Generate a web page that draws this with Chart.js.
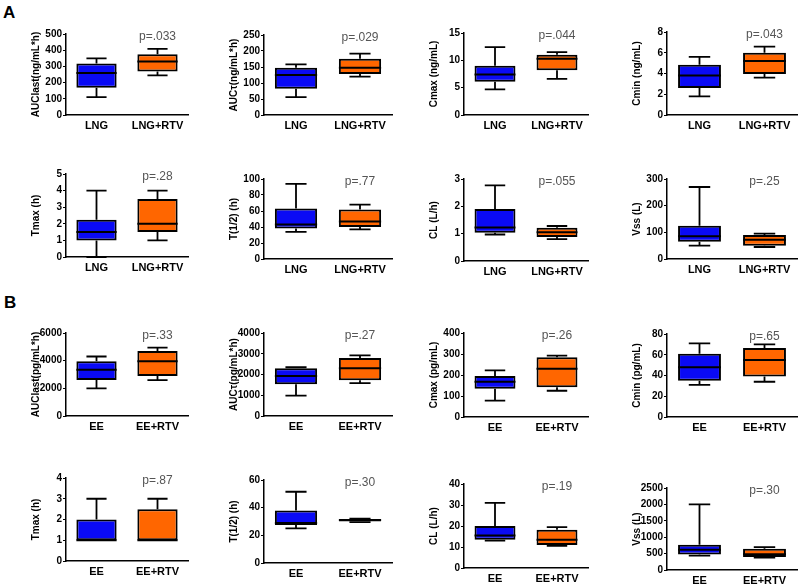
<!DOCTYPE html>
<html><head><meta charset="utf-8">
<script src="https://cdn.jsdelivr.net/npm/chart.js@4"></script>
<style>
body{margin:0;background:#fff;width:800px;height:587px;position:relative;overflow:hidden;font-family:"Liberation Sans",Arial,sans-serif}
.lab{position:absolute;font-weight:bold;font-size:17px;color:#000}
canvas{position:absolute}
</style></head><body>
<div class="lab" style="left:3px;top:3px">A</div>
<div class="lab" style="left:4px;top:293px">B</div>
<script>
// ---- data ----
const groupsA = ['LNG', 'LNG+RTV'];
const groupsB = ['EE', 'EE+RTV'];
const yTitles = ['AUClast(ng/mL*h)', 'AUCτ(ng/mL*h)', 'Cmax (ng/mL)', 'Cmin (ng/mL)',
                 'Tmax (h)', 'T(1/2) (h)', 'CL (L/h)', 'Vss (L)',
                 'AUClast(pg/mL*h)', 'AUCτ(pg/mL*h)', 'Cmax (pg/mL)', 'Cmin (pg/mL)',
                 'Tmax (h)', 'T(1/2) (h)', 'CL (L/h)', 'Vss (L)'];
const yMaxs  = [500, 250, 15, 8, 5, 100, 3, 300, 6000, 4000, 400, 80, 4, 60, 40, 2500];
const ySteps = [100, 50, 5, 2, 1, 20, 1, 100, 2000, 1000, 100, 20, 1, 20, 10, 500];
const pValues = ['p=.033', 'p=.029', 'p=.044', 'p=.043', 'p=.28', 'p=.77', 'p=.055', 'p=.25',
                 'p=.33', 'p=.27', 'p=.26', 'p=.65', 'p=.87', 'p=.30', 'p=.19', 'p=.30'];
// group 1 (blue): LNG / EE
const min1 = [110, 56, 4.7, 1.8, 0, 34, 0.97, 50, 2000, 980, 78, 31, 1, 25, 13, 440];
const q1_1 = [168, 82, 6.1, 2.6, 1, 38, 1.03, 65, 2600, 1530, 135, 35, 1, 27.5, 13.5, 470];
const med1 = [260, 125, 7.4, 3.8, 1.5, 43, 1.23, 85, 3350, 1930, 168, 48, 1, 29, 15.5, 620];
const q3_1 = [318, 148, 9.0, 4.85, 2.25, 63, 1.9, 125, 3950, 2300, 195, 61, 2, 38, 20, 770];
const max1 = [350, 158, 12.4, 5.6, 4, 94, 2.77, 270, 4300, 2350, 222, 71, 3, 51.5, 31, 2000];
// group 2 (orange): +RTV
const min2 = [245, 120, 6.6, 3.6, 1, 37, 0.8, 45, 2600, 1580, 125, 34, 1, 29.5, 10.5, 380];
const q1_2 = [268, 128, 8.2, 3.95, 1.5, 40, 0.88, 50, 2900, 1720, 142, 39, 1, 30, 11, 400];
const med2 = [330, 148, 10.3, 5.2, 2, 47, 1.05, 72, 3950, 2300, 230, 55, 1, 31, 13.5, 480];
const q3_2 = [375, 176, 11.0, 6.0, 3.5, 62, 1.22, 90, 4700, 2800, 285, 66.5, 2.5, 31.5, 18.2, 650];
const max2 = [408, 192, 11.5, 6.6, 4, 68, 1.28, 95, 4950, 2920, 292, 70, 3, 32, 19.5, 700];

// ---- layout (pixels) ----
const colAxisX = [66, 264, 464, 667];
const colPlotW = [122, 128, 124, 130];
const plotTops    = [34, 35, 33, 32, 174, 179, 179, 179, 333, 333, 333, 334, 478, 480, 484, 488];
const plotBottoms = [115, 115, 115, 115, 257, 259, 261, 259, 416, 416, 417, 417, 561, 563, 568, 570];
const PAD_T = 10, PAD_R = 8, Y_W = 36, X_H = 22;
const BLUE = '#0A0AF5', ORANGE = '#FF6600';
const FONT = '"Liberation Sans", Arial, sans-serif';

function makeChart(i) {
  const col = i % 4;
  const ax = colAxisX[col], pw = colPlotW[col];
  const top = plotTops[i], ph = plotBottoms[i] - plotTops[i];
  const cv = document.createElement('canvas');
  cv.width = Y_W + pw + PAD_R;
  cv.height = PAD_T + ph + X_H;
  cv.style.left = (ax - Y_W) + 'px';
  cv.style.top = (top - PAD_T) + 'px';
  document.body.appendChild(cv);
  const stats = [
    {min: min1[i], q1: q1_1[i], med: med1[i], q3: q3_1[i], max: max1[i]},
    {min: min2[i], q1: q1_2[i], med: med2[i], q3: q3_2[i], max: max2[i]}
  ];
  const whiskers = {
    id: 'whiskers' + i,
    afterDatasetsDraw(chart) {
      const ctx = chart.ctx, y = chart.scales.y;
      const meta = chart.getDatasetMeta(0);
      ctx.save();
      ctx.strokeStyle = '#000';
      meta.data.forEach((bar, k) => {
        const s = stats[k];
        const x = bar.x, hw = bar.width / 2, cw = bar.width / 4;
        const pMin = y.getPixelForValue(s.min), pMax = y.getPixelForValue(s.max);
        const pQ1 = y.getPixelForValue(s.q1), pQ3 = y.getPixelForValue(s.q3);
        const pMed = y.getPixelForValue(s.med);
        ctx.lineWidth = 1.8;
        ctx.beginPath();
        if (s.max > s.q3) {
          ctx.moveTo(x, pQ3); ctx.lineTo(x, pMax);
          ctx.moveTo(x - cw, pMax); ctx.lineTo(x + cw, pMax);
        }
        if (s.min < s.q1) {
          ctx.moveTo(x, pQ1); ctx.lineTo(x, pMin);
          ctx.moveTo(x - cw, pMin); ctx.lineTo(x + cw, pMin);
        }
        ctx.stroke();
        ctx.lineWidth = 2;
        ctx.beginPath();
        ctx.moveTo(x - hw, pMed); ctx.lineTo(x + hw, pMed);
        ctx.stroke();
      });
      const b2 = meta.data[1];
      ctx.fillStyle = '#555';
      ctx.font = '12px ' + FONT;
      ctx.textAlign = 'center';
      ctx.textBaseline = 'middle';
      ctx.fillText(pValues[i], b2.x, chart.chartArea.top + 3);
      ctx.restore();
    }
  };
  new Chart(cv, {
    type: 'bar',
    data: {
      labels: i < 8 ? groupsA : groupsB,
      datasets: [{
        data: stats.map(s => [s.q1, s.q3]),
        backgroundColor: [BLUE, ORANGE],
        borderColor: '#000',
        borderWidth: 2,
        borderSkipped: false,
        barPercentage: 0.66,
        categoryPercentage: 1
      }]
    },
    options: {
      responsive: false,
      animation: false,
      devicePixelRatio: 1,
      layout: {padding: {top: PAD_T, right: PAD_R, left: 0, bottom: 0}},
      plugins: {legend: {display: false}, tooltip: {enabled: false}},
      scales: {
        x: {
          type: 'category',
          offset: true,
          grid: {display: false, drawTicks: false},
          border: {display: true, color: '#000', width: 1.5},
          ticks: {font: {family: FONT, size: 11, weight: 'bold'}, color: '#000', padding: 4, maxRotation: 0},
          afterFit: s => { s.height = X_H; }
        },
        y: {
          min: 0, max: yMaxs[i],
          ticks: {stepSize: ySteps[i], font: {family: FONT, size: 10, weight: 'bold'}, color: '#000', padding: 1,
                  callback: v => String(v)},
          grid: {drawOnChartArea: false, drawTicks: true, tickLength: 3, color: '#000', lineWidth: 1},
          border: {display: true, color: '#000', width: 1.5},
          title: {display: true, text: yTitles[i], font: {family: FONT, size: 10, weight: 'bold'}, color: '#000', padding: {top: 0, bottom: 0}},
          afterFit: s => { s.width = Y_W; }
        }
      }
    },
    plugins: [whiskers]
  });
}
for (let i = 0; i < 16; i++) makeChart(i);
</script>
</body></html>
